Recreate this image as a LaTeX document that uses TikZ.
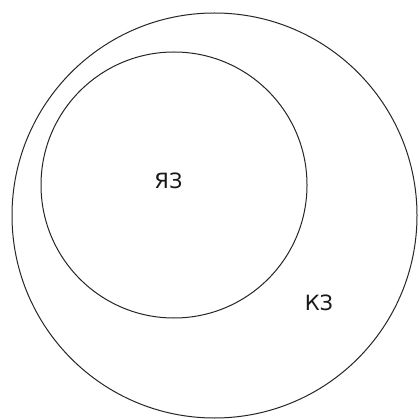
\documentclass[tikz,border=0pt]{standalone}
\usepackage{fontspec}
\setmainfont{DejaVu Sans}
\begin{document}
\begin{tikzpicture}[x=1pt,y=-1pt,
  ring/.style={circle, draw=black!85, line width=1pt, inner sep=0pt},
  lbl/.style={font=\fontsize{21}{24}\selectfont, text=black!90, inner sep=0pt}]
\useasboundingbox (0,0) rectangle (418,419);
\fill[white] (0,0) rectangle (418,419);
\node[ring, minimum size=405pt] (kz) at (214.5,215.5) {};
\node[ring, minimum size=266pt] (yaz) at (174,185) {};
\node[lbl] (tyaz) at (168.5,180.5) {ЯЗ};
\node[lbl] (tkz) at (319,302.5) {КЗ};
\end{tikzpicture}
\end{document}
